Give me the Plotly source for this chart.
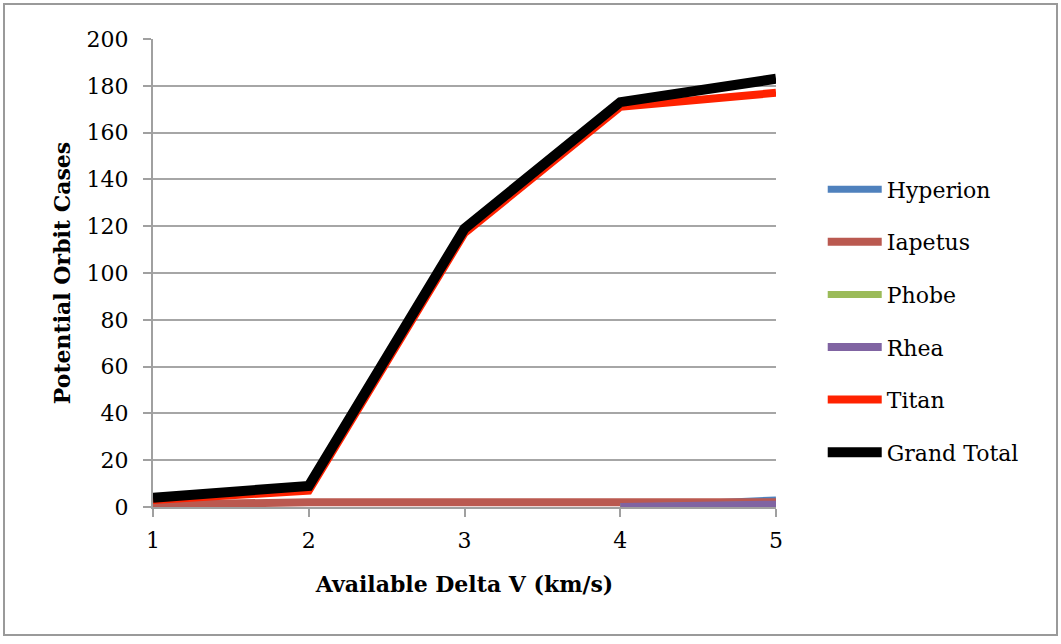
import plotly.graph_objects as go

x_vals = [1, 2, 3, 4, 5]
hyperion = [None, None, None, 0, 3]
iapetus = [1, 2, 2, 2, 2]
phobe = [None, None, None, 0, 1]
rhea = [None, None, None, 0, 1]
titan = [3, 7, 117, 171, 177]
grand_total = [4, 9, 119, 173, 183]

series = [
    ("Hyperion", hyperion, "#4F81BD", 7),
    ("Iapetus", iapetus, "#BA5950", 8),
    ("Phobe", phobe, "#9BBB59", 7),
    ("Rhea", rhea, "#8064A2", 8),
    ("Titan", titan, "#FF2200", 8),
    ("Grand Total", grand_total, "#000000", 10),
]

FONT = "DejaVu Serif"
fig = go.Figure()
for name, vals, color, w in series:
    fig.add_trace(go.Scatter(
        x=x_vals, y=vals, mode="lines", name=name, legendgroup=name,
        line=dict(color=color, width=w), connectgaps=False,
    ))

L, R, T, B = 153, 1061 - 776, 39, 644 - 507
W, H = 1061, 644
pw, ph = W - L - R, H - T - B

fig.update_layout(
    width=W, height=H,
    margin=dict(l=L, r=R, t=T, b=B),
    paper_bgcolor="white", plot_bgcolor="white",
    font=dict(family=FONT, size=22, color="black"),
    showlegend=True,
    legend=dict(x=1.075, y=0.7235, xanchor="left", yanchor="top",
                font=dict(family=FONT, size=22), tracegroupgap=21,
                itemwidth=54, bgcolor="rgba(0,0,0,0)"),
    xaxis=dict(range=[1, 5], tickvals=x_vals, ticks="outside", ticklen=8,
               tickcolor="#A0A0A0", tickwidth=2, showline=True, linecolor="#A0A0A0",
               linewidth=2, showgrid=False, zeroline=False, ticklabelstandoff=5,
               tickfont=dict(family=FONT, size=22),
               title=dict(text="<b>Available Delta V (km/s)</b>", standoff=24,
                          font=dict(family=FONT, size=22))),
    yaxis=dict(range=[0, 200], dtick=20, ticks="outside", ticklen=8,
               tickcolor="#A0A0A0", tickwidth=2, showline=True, linecolor="#A0A0A0",
               linewidth=2, showgrid=True, gridcolor="#A6A6A6", gridwidth=2,
               zeroline=False, ticklabelstandoff=10,
               tickfont=dict(family=FONT, size=22),
               title=dict(text="<b>Potential Orbit Cases</b>", standoff=10,
                          font=dict(family=FONT, size=22))),
)

# outer chart border
fig.add_shape(type="rect", xref="paper", yref="paper",
              x0=(4 - L) / pw, x1=(1057 - L) / pw,
              y0=(507 - 635) / ph, y1=(507 - 4) / ph,
              line=dict(color="#9A9A9A", width=2), layer="below")

fig.write_html("out.html")
